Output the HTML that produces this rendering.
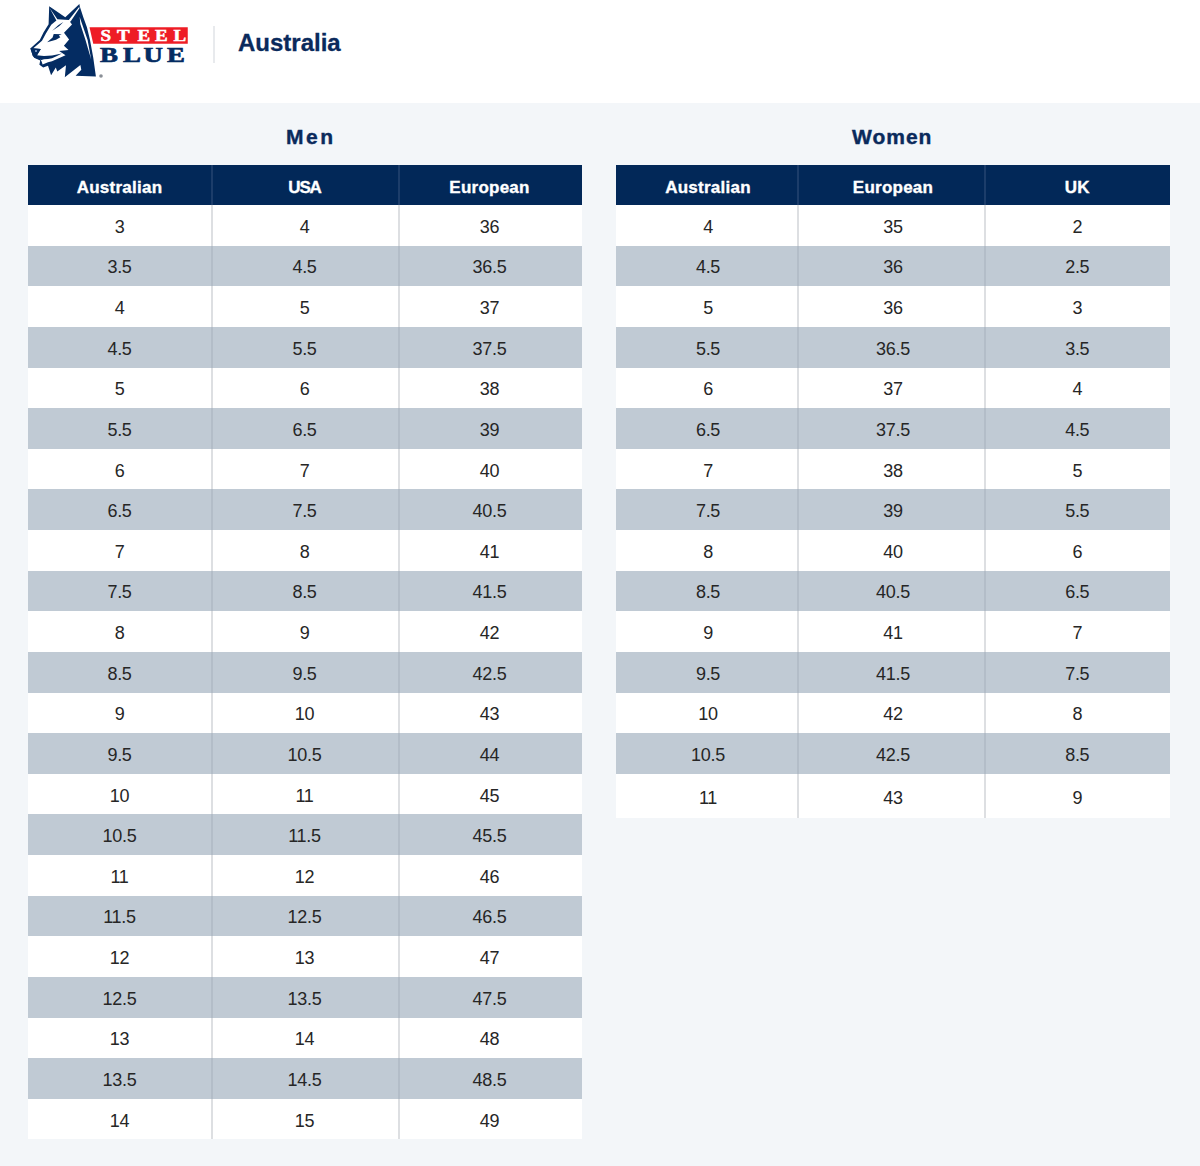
<!DOCTYPE html>
<html><head><meta charset="utf-8">
<style>
*{margin:0;padding:0;box-sizing:border-box}
html,body{width:1200px;height:1166px;overflow:hidden;background:#f3f6f9;font-family:"Liberation Sans",sans-serif}
.top{position:absolute;left:0;top:0;width:1200px;height:103px;background:#fff}
.divider{position:absolute;left:213px;top:26px;width:1.5px;height:37px;background:#e8eaed}
.country{position:absolute;left:238px;top:28px;font-size:24px;font-weight:bold;color:#0a2a5c;line-height:30px;-webkit-text-stroke:0.3px #0a2a5c}
.h2{position:absolute;font-size:21px;font-weight:bold;color:#0a2a5c;line-height:24px;white-space:nowrap;-webkit-text-stroke:0.4px #0a2a5c}
table{position:absolute;border-collapse:collapse;table-layout:fixed}
th{background:#022858;color:#fff;font-size:17px;font-weight:bold;height:40px;padding-top:5px;text-align:center;border-left:2px solid #1c3d6a;letter-spacing:0.25px;-webkit-text-stroke:0.35px #fff}
td{font-size:18px;color:#262626;letter-spacing:-0.3px;height:40.625px;padding-top:4px;text-align:center;border-left:2px solid #dddfe2}
th:first-child,td:first-child{border-left:none}
tr.even td{background:#fff}
tr.last td{height:44.3px;padding-top:4.5px}
.men td:nth-child(2),.men th:nth-child(2){padding-right:2px}
.men td:nth-child(3),.men th:nth-child(3){padding-right:3px}
.women td:nth-child(1),.women th:nth-child(1){padding-left:3px}
.women td:nth-child(2),.women th:nth-child(2){padding-left:3px}
.women td:nth-child(3),.women th:nth-child(3){padding-right:1.5px}
.usa{letter-spacing:-1.2px}
tr.odd td{background:#c0cad4;border-left-color:#b3bdc8}
</style></head><body>
<div class="top">
<svg width="200" height="90" viewBox="0 0 200 90" style="position:absolute;left:0;top:0">
<path fill="#042c62" d="M49.2 6.3 L65.3 17.3 L79.4 4.1 L79.8 6.5 L83.3 17.2 L87 27.4 L90 40 L93.3 58 L95.9 76.4 L75.6 75.8 L81.3 69.7 L80.4 64.9 L64.8 77.2 L66 65.2 L57.3 71.5 L55.8 67.6 L51.1 75.3 L48 65.8 L43.2 67.4 L39.4 64.7 L40.2 60.5 L34.2 57.8 L32.8 55.8 L30.3 48.6 L39.8 40 L43.5 32.6 L48.6 24.2 Z"/>
<path fill="#fff" d="M49.8 8.2 L57.4 19.2 L68.8 20.1 L79.1 6.9 L79.6 7.9 L70.6 21.4 L69.8 21.6 L72 24.5 L64 32.8 L69.1 39.5 L63.9 45.7 L68.5 50 L59.2 51 L65.5 55.3 L52 61.2 L48 62.2 L42.6 64.6 L41.7 61.8 L40.6 59.4 L36.8 57.6 L37.3 54.7 L40.8 48.9 L33.3 48.3 L42 40.8 L45.9 33.4 L51.2 24.8 L56.4 20.5 Z"/>
<g fill="#042c62">
<path d="M30.6 48.3 L40.8 48.9 L37.3 54.7 L35.2 57.8 L32.8 56 Z"/>
<path d="M36.5 55.3 L44 55.9 L52 55.6 L57 54.6 L61.9 53.6 L57 56 L52 58.2 L48 58.9 L44 59.3 L41.4 59.9 L34.4 57.8 Z"/>
<path d="M53.7 34 L61.7 34.2 L58.8 35.4 L60.3 37.3 L56 39.7 L47.1 42.2 L52.6 37.4 Z"/>
<path d="M63.4 21.9 L59.4 26 L52.2 30.7 L58.5 24.9 Z"/>
</g>
<circle cx="36" cy="51" r="0.9" fill="#a9c0e6"/>
<path fill="#fff" d="M79.7 17 L81.4 22 L87.6 40 L91.2 59.4 L85.5 40 L80.3 24 Z"/>
<path fill="#ee1c25" d="M89.5 27.25 L187.75 27.25 L187.75 43.75 L93.25 43.75 Z"/>
<g font-family="Liberation Serif" font-weight="bold" fill="#fff" stroke="#fff" stroke-width="0.5" font-size="15.8">
<text transform="translate(100.5 41.3) scale(1.2 1)">S</text>
<text transform="translate(117 41.3) scale(1.2 1)">T</text>
<text transform="translate(137.5 41.3) scale(1.2 1)">E</text>
<text transform="translate(155 41.3) scale(1.2 1)">E</text>
<text transform="translate(173.5 41.3) scale(1.2 1)">L</text>
</g>
<g font-family="Liberation Serif" font-weight="bold" fill="#042c62" stroke="#042c62" stroke-width="0.7" font-size="20.6">
<text transform="translate(100 61.7) scale(1.3 1)">B</text>
<text transform="translate(123 61.7) scale(1.3 1)">L</text>
<text transform="translate(143.5 61.7) scale(1.3 1)">U</text>
<text transform="translate(167 61.7) scale(1.3 1)">E</text>
</g>
<circle cx="101" cy="76" r="1.8" fill="#8a8f96"/>
</svg>

<div class="divider"></div>
<div class="country">Australia</div>
</div>
<div class="h2" style="left:286px;top:125px;letter-spacing:2.5px">Men</div>
<table class="men" style="left:28px;top:165px;width:554px">
<colgroup><col style="width:184px"><col style="width:187px"><col style="width:183px"></colgroup>
<tr><th>Australian</th><th class="usa">USA</th><th>European</th></tr>
<tr class="even"><td>3</td><td>4</td><td>36</td></tr>
<tr class="odd"><td>3.5</td><td>4.5</td><td>36.5</td></tr>
<tr class="even"><td>4</td><td>5</td><td>37</td></tr>
<tr class="odd"><td>4.5</td><td>5.5</td><td>37.5</td></tr>
<tr class="even"><td>5</td><td>6</td><td>38</td></tr>
<tr class="odd"><td>5.5</td><td>6.5</td><td>39</td></tr>
<tr class="even"><td>6</td><td>7</td><td>40</td></tr>
<tr class="odd"><td>6.5</td><td>7.5</td><td>40.5</td></tr>
<tr class="even"><td>7</td><td>8</td><td>41</td></tr>
<tr class="odd"><td>7.5</td><td>8.5</td><td>41.5</td></tr>
<tr class="even"><td>8</td><td>9</td><td>42</td></tr>
<tr class="odd"><td>8.5</td><td>9.5</td><td>42.5</td></tr>
<tr class="even"><td>9</td><td>10</td><td>43</td></tr>
<tr class="odd"><td>9.5</td><td>10.5</td><td>44</td></tr>
<tr class="even"><td>10</td><td>11</td><td>45</td></tr>
<tr class="odd"><td>10.5</td><td>11.5</td><td>45.5</td></tr>
<tr class="even"><td>11</td><td>12</td><td>46</td></tr>
<tr class="odd"><td>11.5</td><td>12.5</td><td>46.5</td></tr>
<tr class="even"><td>12</td><td>13</td><td>47</td></tr>
<tr class="odd"><td>12.5</td><td>13.5</td><td>47.5</td></tr>
<tr class="even"><td>13</td><td>14</td><td>48</td></tr>
<tr class="odd"><td>13.5</td><td>14.5</td><td>48.5</td></tr>
<tr class="even"><td>14</td><td>15</td><td>49</td></tr>
</table>
<div class="h2" style="left:852px;top:125px;letter-spacing:1px">Women</div>
<table class="women" style="left:616px;top:165px;width:554px">
<colgroup><col style="width:182px"><col style="width:187px"><col style="width:185px"></colgroup>
<tr><th>Australian</th><th>European</th><th>UK</th></tr>
<tr class="even"><td>4</td><td>35</td><td>2</td></tr>
<tr class="odd"><td>4.5</td><td>36</td><td>2.5</td></tr>
<tr class="even"><td>5</td><td>36</td><td>3</td></tr>
<tr class="odd"><td>5.5</td><td>36.5</td><td>3.5</td></tr>
<tr class="even"><td>6</td><td>37</td><td>4</td></tr>
<tr class="odd"><td>6.5</td><td>37.5</td><td>4.5</td></tr>
<tr class="even"><td>7</td><td>38</td><td>5</td></tr>
<tr class="odd"><td>7.5</td><td>39</td><td>5.5</td></tr>
<tr class="even"><td>8</td><td>40</td><td>6</td></tr>
<tr class="odd"><td>8.5</td><td>40.5</td><td>6.5</td></tr>
<tr class="even"><td>9</td><td>41</td><td>7</td></tr>
<tr class="odd"><td>9.5</td><td>41.5</td><td>7.5</td></tr>
<tr class="even"><td>10</td><td>42</td><td>8</td></tr>
<tr class="odd"><td>10.5</td><td>42.5</td><td>8.5</td></tr>
<tr class="even last"><td>11</td><td>43</td><td>9</td></tr>
</table>
</body></html>
